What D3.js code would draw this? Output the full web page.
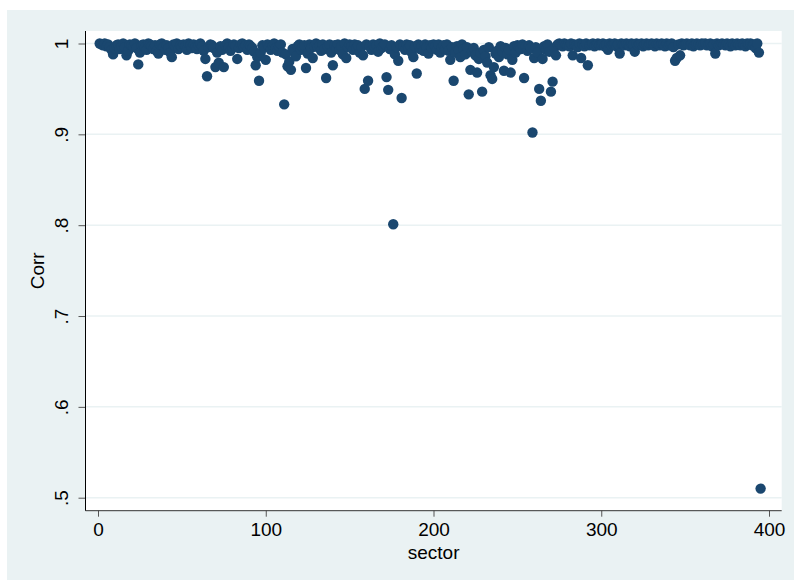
<!DOCTYPE html>
<html>
<head>
<meta charset="utf-8">
<script src="https://cdn.jsdelivr.net/npm/d3@7"></script>
<style>
  body { margin: 0; background: #fff; }
  svg text { font-family: "Liberation Sans", Arial, Helvetica, sans-serif; fill: #000; }
</style>
</head>
<body>
<div id="chart"></div>
<script>
// correlation per sector, sectors 1..395 in order
var corr = [
  1.000, .999, .998, 1.000, .997, .999, .996, .993, .988, .995,
  .998, .999, .994, .997, 1.000, .996, .987, .992, .999, .998,
  .997, 1.000, .995, .977, .990, .998, .999, .996, .993, 1.000,
  .999, .997, .994, .998, .992, .989, .999, 1.000, .996, .993,
  .998, .995, .990, .985, .999, .997, 1.000, .994, .998, .996,
  .999, .997, .993, 1.000, .998, .995, .999, .996, .994, .998,
  1.000, .997, .992, .983, .964, .996, .999, .998, .995, .974,
  .990, .979, .997, .993, .974, .998, 1.000, .996, .992, .995,
  .999, .997, .983, .995, .999, 1.000, .996, .998, .993, .999,
  .997, .995, .991, .976, .985, .959, .990, .998, .996, .982,
  .999, .997, .993, .998, 1.000, .995, .992, .997, .999, .990,
  .933, .988, .975, .980, .971, .994, .991, .986, .997, .999,
  .993, .996, .998, .973, .989, .999, .995, .984, .997, 1.000,
  .996, .998, .992, .999, .994, .962, .997, .999, .990, .976,
  .998, .995, .999, .993, .997, .988, 1.000, .984, .996, .999,
  .997, .993, .999, .995, .998, .990, .996, .987, .950, .999,
  .959, .997, .993, .999, .996, .998, .991, 1.000, .995, .997,
  .999, .963, .949, .994, .998, .801, .988, .996, .981, .999,
  .940, .997, .993, .999, .995, .998, .990, .985, .997, .967,
  .999, .994, .997, .992, .999, .996, .989, .998, .995, .999,
  .997, .993, .999, .990, .996, .998, .994, .999, .992, .982,
  .996, .959, .990, .997, .993, .985, .999, .994, .988, .996,
  .944, .971, .991, .995, .987, .968, .983, .990, .947, .993,
  .986, .979, .996, .965, .961, .974, .989, .992, .985, .997,
  .991, .970, .995, .988, .993, .968, .982, .997, .990, .998,
  .996, .994, .999, .962, .997, .992, .998, .995, .902, .984,
  .996, .990, .950, .937, .983, .997, .993, .999, .991, .947,
  .958, .995, .987, .999, 1.000, .998, .997, 1.000, .999, .998,
  .997, 1.000, .987, .999, .998, .996, 1.000, .984, .999, .997,
  1.000, .976, .998, .999, 1.000, .997, .999, 1.000, .998, .999,
  1.000, .997, .999, .993, 1.000, .998, .999, 1.000, .997, .999,
  .989, 1.000, .999, .998, 1.000, .999, .997, 1.000, .999, .991,
  1.000, .998, .999, 1.000, .997, .999, 1.000, .998, .999, 1.000,
  .999, .997, 1.000, .999, .998, 1.000, .999, .997, 1.000, .998,
  .999, 1.000, .996, .981, .984, .999, .987, 1.000, .998, .999,
  1.000, .999, .998, 1.000, .997, .999, 1.000, .999, .998, 1.000,
  .999, 1.000, .998, .999, 1.000, .997, .999, .989, 1.000, .998,
  .999, 1.000, .999, .998, 1.000, .999, .997, 1.000, .999, .998,
  1.000, .999, .998, 1.000, .999, .997, 1.000, .999, 1.000, .998,
  .999, .995, 1.000, .990, .510
];
var sector = corr.map(function (d, i) { return i + 1; });

var xTicks = [0, 100, 200, 300, 400];
var yTicks = [.5, .6, .7, .8, .9, 1];
var yTickLabels = ['.5', '.6', '.7', '.8', '.9', '1'];

var width = 794;
var height = 584;
var plot = { left: 85.5, right: 781.7, top: 31, bottom: 510.7 };

var markColor = '#1a476f';
var bgColor = '#eaf2f3';

var svg = d3.select('#chart').append('svg')
  .attr('width', width)
  .attr('height', height);

// outer graph region
svg.append('rect')
  .attr('x', 7).attr('y', 10)
  .attr('width', width - 7).attr('height', 570)
  .attr('fill', bgColor);

// plot region
svg.append('rect')
  .attr('x', plot.left).attr('y', plot.top)
  .attr('width', plot.right - plot.left).attr('height', plot.bottom - plot.top)
  .attr('fill', '#fff');

// scales: 0 -> 98px, 400 -> 769px ; 1 -> 43.5px, .5 -> 497.7px
var x = d3.scaleLinear().domain([0, 400]).range([98, 769]);
var y = d3.scaleLinear().domain([.5, 1]).range([497.7, 43.5]);

// grid lines
svg.append('g')
  .selectAll('line')
  .data(yTicks)
  .enter().append('line')
  .attr('x1', plot.left).attr('x2', plot.right)
  .attr('y1', function (d) { return y(d); })
  .attr('y2', function (d) { return y(d); })
  .attr('stroke', bgColor)
  .attr('stroke-width', 1.5);

// points
svg.append('g')
  .selectAll('circle')
  .data(corr)
  .enter().append('circle')
  .attr('cx', function (d, i) { return x(sector[i]); })
  .attr('cy', function (d) { return y(d); })
  .attr('r', 5.2)
  .attr('fill', markColor);

// x axis
var xAxis = svg.append('g')
  .attr('transform', 'translate(0,' + plot.bottom + ')')
  .call(d3.axisBottom(x).tickValues(xTicks).tickSize(6).tickPadding(6).tickFormat(d3.format('d')));
xAxis.select('.domain').remove();
xAxis.append('line')
  .attr('x1', plot.left).attr('x2', plot.right)
  .attr('stroke', '#333').attr('stroke-width', 1);
xAxis.selectAll('.tick line').attr('stroke', '#555');
xAxis.selectAll('.tick text')
  .attr('font-size', 19)
  .attr('fill', '#000')
  .attr('font-family', '"Liberation Sans", Arial, sans-serif');

// y axis
var yAxis = svg.append('g')
  .attr('transform', 'translate(' + plot.left + ',0)')
  .call(d3.axisLeft(y).tickValues(yTicks).tickSize(7)
    .tickFormat(function (d, i) { return yTickLabels[i]; }));
yAxis.select('.domain').remove();
yAxis.append('line')
  .attr('y1', plot.top).attr('y2', plot.bottom)
  .attr('stroke', '#000').attr('stroke-width', 1);
yAxis.selectAll('.tick line').attr('stroke', '#555');
yAxis.selectAll('.tick text')
  .attr('font-size', 19)
  .attr('fill', '#000')
  .attr('font-family', '"Liberation Sans", Arial, sans-serif')
  .attr('x', null).attr('dy', null)
  .attr('text-anchor', 'middle')
  .attr('transform', 'translate(-18,0) rotate(-90)');

// axis titles
svg.append('text')
  .attr('x', (plot.left + plot.right) / 2)
  .attr('y', 559)
  .attr('text-anchor', 'middle')
  .attr('font-size', 19)
  .text('sector');

svg.append('text')
  .attr('transform', 'translate(44,' + ((plot.top + plot.bottom) / 2) + ') rotate(-90)')
  .attr('text-anchor', 'middle')
  .attr('font-size', 19)
  .text('Corr');
</script>
</body>
</html>
